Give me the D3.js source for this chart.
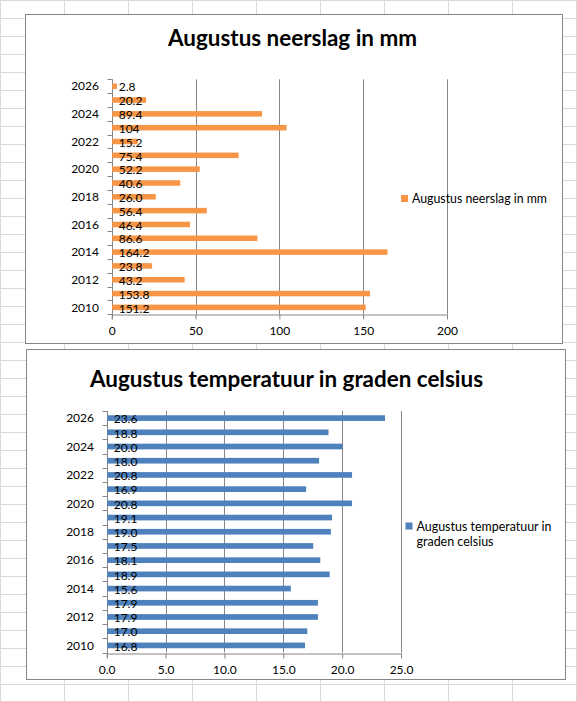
<!DOCTYPE html>
<html>
<head>
<meta charset="utf-8">
<script src="https://cdn.jsdelivr.net/npm/d3@7"></script>
<style>
  body { margin: 0; background: #fff; }
  text { font-family: Lato, "Open Sans", sans-serif; fill: #000; }
</style>
</head>
<body>
<script>
"use strict";
var svg_width = 577;
var svg_height = 701;

// ---data
var years = [2010, 2011, 2012, 2013, 2014, 2015, 2016, 2017, 2018, 2019, 2020, 2021, 2022, 2023, 2024, 2025, 2026];
var rain_values = [151.2, 153.8, 43.2, 23.8, 164.2, 86.6, 46.4, 56.4, 26.0, 40.6, 52.2, 75.4, 15.2, 104, 89.4, 20.2, 2.8];
var rain_labels = ["151.2", "153.8", "43.2", "23.8", "164.2", "86.6", "46.4", "56.4", "26.0", "40.6", "52.2", "75.4", "15.2", "104", "89.4", "20.2", "2.8"];
var rain_ticks = [0, 50, 100, 150, 200];
var temp_values = [16.8, 17.0, 17.9, 17.9, 15.6, 18.9, 18.1, 17.5, 19.0, 19.1, 20.8, 16.9, 20.8, 18.0, 20.0, 18.8, 23.6];
var temp_ticks = [0, 5, 10, 15, 20, 25];
var year_labels = [2010, 2012, 2014, 2016, 2018, 2020, 2022, 2024, 2026];

var svg = d3.select("body").append("svg")
    .attr("width", svg_width)
    .attr("height", svg_height);

// ---spreadsheet cells behind the charts
var grid = svg.append("g").attr("stroke", "#d9d9d9").attr("stroke-width", 1);
grid.selectAll("line.col")
    .data(d3.range(0, svg_width + 1, 64))
    .enter().append("line")
    .attr("x1", function(d) { return d + 0.5; })
    .attr("x2", function(d) { return d + 0.5; })
    .attr("y1", 0)
    .attr("y2", svg_height);
grid.selectAll("line.row")
    .data(d3.range(0, svg_height + 1, 18))
    .enter().append("line")
    .attr("x1", 0)
    .attr("x2", svg_width)
    .attr("y1", function(d) { return d + 0.5; })
    .attr("y2", function(d) { return d + 0.5; });

function drawChart(cfg)
{
    var g = svg.append("g");
    var axis_color = "#868686";

    g.append("rect")
        .attr("x", cfg.box[0] + 0.5)
        .attr("y", cfg.box[1] + 0.5)
        .attr("width", cfg.box[2])
        .attr("height", cfg.box[3])
        .attr("fill", "#fff")
        .attr("stroke", axis_color);

    g.append("text")
        .attr("x", cfg.title_x)
        .attr("y", cfg.title_y)
        .attr("text-anchor", "middle")
        .attr("font-weight", "bold")
        .attr("font-size", 22)
        .attr("textLength", cfg.title_len)
        .attr("lengthAdjust", "spacingAndGlyphs")
        .text(cfg.title);

    var xscale = d3.scaleLinear()
        .domain([0, cfg.ticks[cfg.ticks.length - 1]])
        .range([cfg.left, cfg.right]);
    var yscale = d3.scaleBand()
        .domain(years)
        .range([cfg.bottom, cfg.top])
        .paddingInner(0.6)
        .paddingOuter(0.3);
    var edges = d3.scaleLinear()
        .domain([0, years.length])
        .range([cfg.bottom, cfg.top]);

    // ---vertical gridlines
    g.selectAll("line.grid")
        .data(cfg.ticks.slice(1))
        .enter().append("line")
        .attr("x1", function(d) { return Math.round(xscale(d)) + 0.5; })
        .attr("x2", function(d) { return Math.round(xscale(d)) + 0.5; })
        .attr("y1", cfg.top)
        .attr("y2", cfg.bottom)
        .attr("stroke", axis_color);

    // ---value axis
    var xaxis = d3.axisBottom(xscale)
        .tickValues(cfg.ticks)
        .tickSize(5)
        .tickSizeOuter(0)
        .tickPadding(7)
        .tickFormat(cfg.tick_format);
    var xg = g.append("g")
        .attr("transform", "translate(0," + (Math.round(cfg.bottom) + 0.5) + ")")
        .call(xaxis);
    xg.selectAll("path, line").attr("stroke", axis_color);
    xg.selectAll("text")
        .attr("font-size", 12)
        .attr("font-family", "Lato, sans-serif")
        .attr("fill", "#000");

    // ---category axis, ticks at the band edges
    var ax = Math.round(cfg.left) + 0.5;
    g.append("line")
        .attr("x1", ax).attr("x2", ax)
        .attr("y1", cfg.top).attr("y2", cfg.bottom + 5)
        .attr("stroke", axis_color);
    g.selectAll("line.ctick")
        .data(d3.range(0, years.length + 1))
        .enter().append("line")
        .attr("x1", ax - 5).attr("x2", ax)
        .attr("y1", function(d) { return Math.round(edges(d)) + 0.5; })
        .attr("y2", function(d) { return Math.round(edges(d)) + 0.5; })
        .attr("stroke", axis_color);
    g.selectAll("text.year")
        .data(year_labels)
        .enter().append("text")
        .attr("x", cfg.year_x)
        .attr("y", function(d) { return yscale(d) + yscale.bandwidth() / 2; })
        .attr("dy", "0.35em")
        .attr("text-anchor", "end")
        .attr("font-size", 12)
        .text(function(d) { return d; });

    // ---bars
    g.selectAll("rect.bar")
        .data(cfg.values)
        .enter().append("rect")
        .attr("x", cfg.left + 0.5)
        .attr("y", function(d, i) { return yscale(years[i]); })
        .attr("width", function(d) { return xscale(d) - cfg.left; })
        .attr("height", yscale.bandwidth())
        .attr("fill", cfg.color);

    // ---data labels at inside base
    g.selectAll("text.lbl")
        .data(cfg.labels)
        .enter().append("text")
        .attr("x", cfg.left + 7)
        .attr("y", function(d, i) { return yscale(years[i]) + yscale.bandwidth() / 2 + 1; })
        .attr("dy", "0.35em")
        .attr("font-size", 12)
        .text(function(d) { return d; });

    // ---legend
    g.append("rect")
        .attr("x", cfg.legend[0])
        .attr("y", cfg.legend[1])
        .attr("width", 7)
        .attr("height", 7)
        .attr("fill", cfg.color);
    cfg.legend_text.forEach(function(line, i)
    {
        g.append("text")
            .attr("x", cfg.legend[0] + 11)
            .attr("y", cfg.legend[1] + 8 + i * 15.5)
            .attr("font-size", 13)
            .attr("textLength", cfg.legend_len[i])
            .attr("lengthAdjust", "spacingAndGlyphs")
            .text(line);
    });
}

drawChart({
    box: [25, 14, 537, 329],
    title: "Augustus neerslag in mm",
    title_x: 292.5, title_y: 46, title_len: 249,
    left: 111.7, right: 447, top: 79.3, bottom: 314.3,
    year_x: 99,
    ticks: rain_ticks,
    tick_format: d3.format("d"),
    values: rain_values,
    labels: rain_labels,
    color: "#F79646",
    legend: [401, 195],
    legend_text: ["Augustus neerslag in mm"],
    legend_len: [135]
});

drawChart({
    box: [26, 349, 539, 330],
    title: "Augustus temperatuur in graden celsius",
    title_x: 286.5, title_y: 387, title_len: 393,
    left: 106.7, right: 401, top: 411, bottom: 652.5,
    year_x: 94,
    ticks: temp_ticks,
    tick_format: d3.format(".1f"),
    values: temp_values,
    labels: temp_values.map(d3.format(".1f")),
    color: "#4F81BD",
    legend: [405.5, 522.5],
    legend_text: ["Augustus temperatuur in", "graden celsius"],
    legend_len: [135, 77]
});
</script>
</body>
</html>
